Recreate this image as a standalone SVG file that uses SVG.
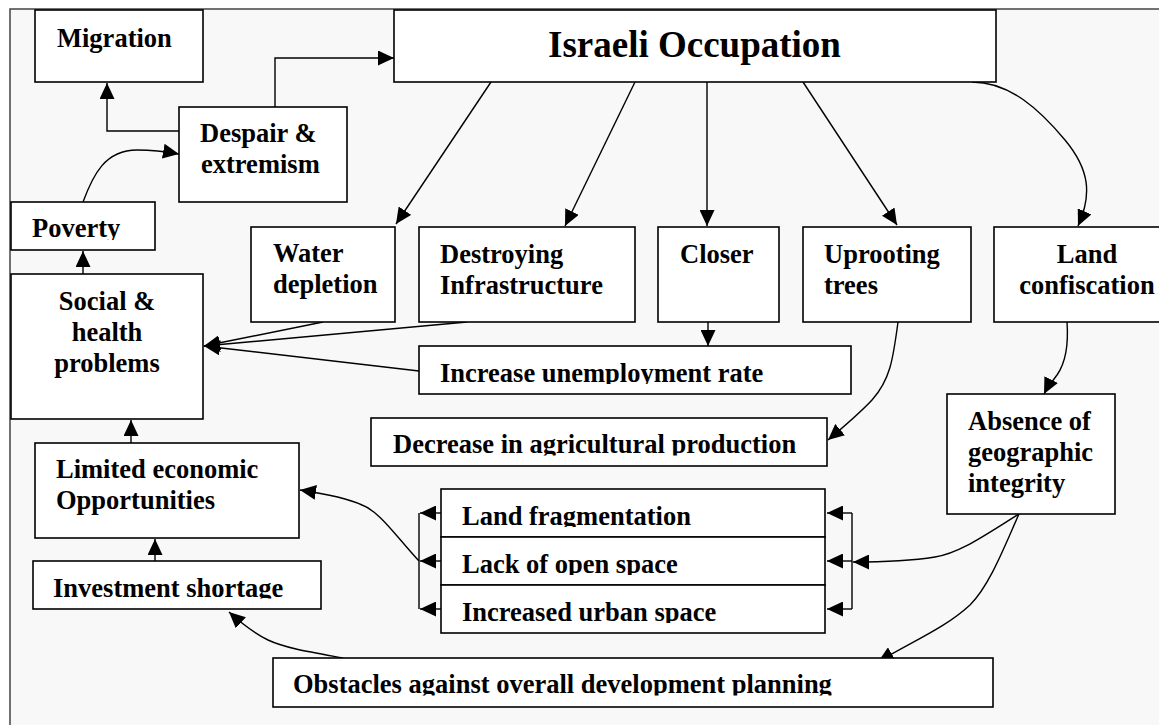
<svg xmlns="http://www.w3.org/2000/svg" width="1159" height="725" viewBox="0 0 1159 725">
<style>
.box{fill:#fff;stroke:#000;stroke-width:1.6}
.t{font-family:"Liberation Serif","Times New Roman",serif;font-weight:bold;font-size:26.5px;fill:#000}
.tc{text-anchor:middle}
.c{fill:none;stroke:#000;stroke-width:1.4}
.a{marker-end:url(#ah)}
</style>
<defs>
<marker id="ah" markerUnits="userSpaceOnUse" markerWidth="16" markerHeight="15" refX="16" refY="7.5" orient="auto" viewBox="0 0 16 15">
<path d="M0,0 L16,7.5 L0,15 z" fill="#000"/>
</marker>
<clipPath id="k-pov"><rect x="0" y="0" width="1159" height="240"/></clipPath>
<clipPath id="k-une"><rect x="0" y="0" width="1159" height="384"/></clipPath>
<clipPath id="k-dec"><rect x="0" y="0" width="1159" height="455.5"/></clipPath>
<clipPath id="k-inv"><rect x="0" y="0" width="1159" height="598.5"/></clipPath>
<clipPath id="k-lf"><rect x="0" y="0" width="1159" height="527"/></clipPath>
<clipPath id="k-lo"><rect x="0" y="0" width="1159" height="575"/></clipPath>
<clipPath id="k-iu"><rect x="0" y="0" width="1159" height="623"/></clipPath>
<clipPath id="k-obs"><rect x="0" y="0" width="1159" height="695.5"/></clipPath>
</defs>
<rect x="0" y="0" width="1159" height="725" fill="#fff"/>
<rect id="frame" x="10" y="9" width="1200" height="800" fill="#f8f8f8" stroke="#444" stroke-width="1.5"/>

<g id="connectors">
<polyline class="c a" points="179,131 107,131 107,83"/>
<polyline class="c a" points="275,107 275,58 394,58"/>
<path class="c a" d="M83,202 C93,175 105,150 137,150 C155,150 168,152 179,154"/>
<line class="c a" x1="83" y1="274" x2="83" y2="251"/>
<line class="c a" x1="323" y1="322" x2="204" y2="346"/>
<line class="c a" x1="467" y1="322" x2="204" y2="346"/>
<line class="c a" x1="419" y1="371" x2="204" y2="346"/>
<line class="c a" x1="131" y1="443" x2="131" y2="420"/>
<line class="c a" x1="155" y1="561" x2="155" y2="539"/>
<line class="c a" x1="491" y1="82" x2="396" y2="224"/>
<line class="c a" x1="635" y1="82" x2="565" y2="226"/>
<line class="c a" x1="707" y1="82" x2="707" y2="226"/>
<line class="c a" x1="803" y1="82" x2="897" y2="225"/>
<path class="c a" d="M972,82 C1010,82 1040,110 1065,140 C1090,170 1092,195 1078,226"/>
<line class="c a" x1="708" y1="322" x2="708" y2="346"/>
<path class="c a" d="M898,322 C893,360 890,380 872,400 C858,415 842,428 828,440"/>
<path class="c a" d="M1067,322 C1069,350 1064,365 1057,375 C1051,383 1047,388 1044,394"/>
<line class="c a" x1="441" y1="513" x2="420" y2="513"/>
<line class="c a" x1="441" y1="561" x2="420" y2="561"/>
<line class="c a" x1="441" y1="609" x2="420" y2="609"/>
<line class="c" x1="419" y1="513" x2="419" y2="609"/>
<path class="c a" d="M419,561 C395,535 380,512 362,505 C345,497 320,493 300,490"/>
<line class="c a" x1="852" y1="513" x2="827" y2="513"/>
<line class="c a" x1="852" y1="561" x2="827" y2="561"/>
<line class="c a" x1="852" y1="609" x2="827" y2="609"/>
<line class="c" x1="852" y1="513" x2="852" y2="609"/>
<path class="c a" d="M1019,514 C985,535 960,553 935,557 C910,561 880,562 853,562"/>
<path class="c a" d="M1019,514 C1005,545 990,585 970,605 C945,628 915,640 878,662"/>
<path class="c a" d="M343,658 C310,652 285,648 268,640 C252,632 240,622 229,612"/>
</g>

<g id="n-migration"><rect class="box" x="35" y="10" width="168" height="72"/><text class="t" x="57" y="47">Migration</text></g>
<g id="n-israeli"><rect class="box" x="394" y="10" width="602" height="72"/><text class="t" x="548" y="57" style="font-size:37px">Israeli Occupation</text></g>
<g id="n-despair"><rect class="box" x="179" y="107" width="168" height="95"/><text class="t" x="200" y="142">Despair &amp;</text><text class="t" x="201" y="173">extremism</text></g>
<g id="n-poverty"><rect class="box" x="11" y="202" width="144" height="48"/><text class="t" x="32" y="237" clip-path="url(#k-pov)">Poverty</text></g>
<g id="n-social"><rect class="box" x="11" y="274" width="192" height="145"/><text class="t tc" x="107" y="310">Social &amp;</text><text class="t tc" x="107" y="341">health</text><text class="t tc" x="107" y="372">problems</text></g>
<g id="n-water"><rect class="box" x="251" y="227" width="144" height="95"/><text class="t" x="273" y="262">Water</text><text class="t" x="273" y="293">depletion</text></g>
<g id="n-destroying"><rect class="box" x="419" y="227" width="216" height="95"/><text class="t" x="440" y="263">Destroying</text><text class="t" x="440" y="294">Infrastructure</text></g>
<g id="n-closer"><rect class="box" x="658" y="227" width="121" height="95"/><text class="t" x="680" y="263">Closer</text></g>
<g id="n-uprooting"><rect class="box" x="803" y="227" width="168" height="95"/><text class="t" x="824" y="263">Uprooting</text><text class="t" x="824" y="294">trees</text></g>
<g id="n-land"><rect class="box" x="994" y="227" width="200" height="95"/><text class="t tc" x="1087" y="263">Land</text><text class="t tc" x="1087" y="294">confiscation</text></g>
<g id="n-unemployment"><rect class="box" x="419" y="346" width="432" height="48"/><text class="t" x="440" y="382" clip-path="url(#k-une)">Increase unemployment rate</text></g>
<g id="n-decrease"><rect class="box" x="371" y="418" width="456" height="48"/><text class="t" x="393" y="453" clip-path="url(#k-dec)">Decrease in agricultural production</text></g>
<g id="n-absence"><rect class="box" x="947" y="394" width="168" height="120"/><text class="t" x="968" y="430">Absence of</text><text class="t" x="968" y="461">geographic</text><text class="t" x="968" y="492">integrity</text></g>
<g id="n-limited"><rect class="box" x="35" y="443" width="264" height="95"/><text class="t" x="56" y="478">Limited economic</text><text class="t" x="56" y="509">Opportunities</text></g>
<g id="n-investment"><rect class="box" x="33" y="561" width="288" height="48"/><text class="t" x="53" y="597" clip-path="url(#k-inv)">Investment shortage</text></g>
<g id="n-landfrag"><rect class="box" x="441" y="489" width="384" height="48"/><text class="t" x="462" y="525" clip-path="url(#k-lf)">Land fragmentation</text></g>
<g id="n-lackopen"><rect class="box" x="441" y="537" width="384" height="48"/><text class="t" x="462" y="573" clip-path="url(#k-lo)">Lack of open space</text></g>
<g id="n-urban"><rect class="box" x="441" y="585" width="384" height="48"/><text class="t" x="462" y="621" clip-path="url(#k-iu)">Increased urban space</text></g>
<g id="n-obstacles"><rect class="box" x="273" y="658" width="720" height="49"/><text class="t" x="293" y="693" clip-path="url(#k-obs)">Obstacles against overall development planning</text></g>
</svg>
